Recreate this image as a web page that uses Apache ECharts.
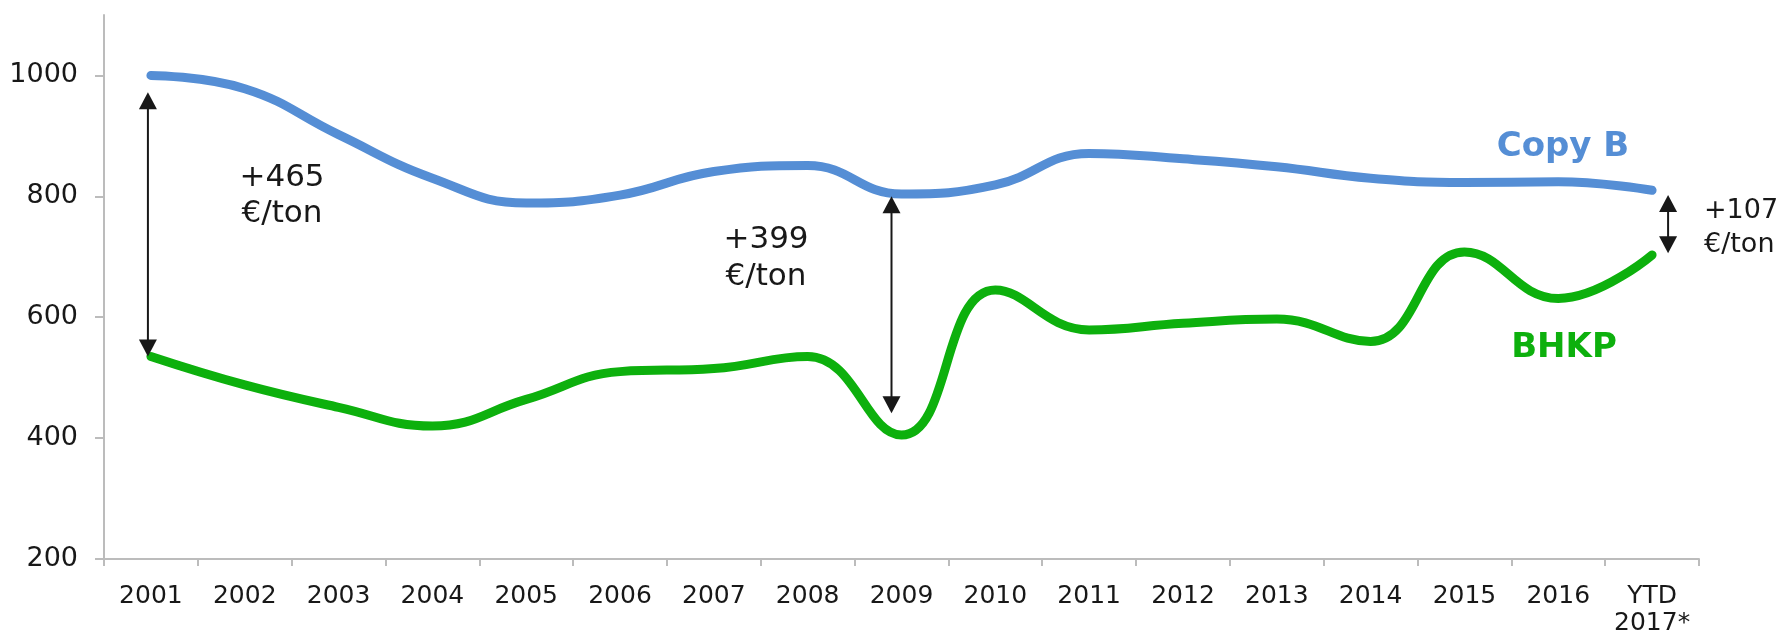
<!DOCTYPE html>
<html>
<head>
<meta charset="utf-8">
<title>Copy B vs BHKP</title>
<script src="https://cdn.jsdelivr.net/npm/echarts@6/dist/echarts.min.js"></script>
<style>
  html, body { margin: 0; padding: 0; background: #ffffff; }
  #chart { width: 1789px; height: 630px; }
</style>
</head>
<body>
<div id="chart"></div>
<script>
// Yearly prices, €/ton
const categories = ['2001', '2002', '2003', '2004', '2005', '2006', '2007', '2008', '2009',
  '2010', '2011', '2012', '2013', '2014', '2015', '2016', 'YTD\n2017*'];
const copyB = [1000, 978, 902, 830, 789, 802, 841, 851, 804, 819, 871, 862, 849, 830, 823, 824, 810];
const bhkp  = [535, 488, 451, 420, 464, 510, 515, 535, 405, 645, 579, 590, 597, 560, 708, 631, 703];
const yTicks = [200, 400, 600, 800, 1000];

// Spread arrows: category, upper end, lower end (€/ton)
const spreadCats  = ['2001', '2009', 'YTD\n2017*'];
const spreadTop   = [972, 800, 802];
const spreadLow   = [535, 441, 706];
const spreadTexts = ['+465\n€/ton', '+399\n€/ton', '+107\n€/ton'];

const FONT = '"DejaVu Sans", Verdana, sans-serif';
const BLUE = '#558ED5';
const GREEN = '#0DB00D';
const INK = '#181818';
const AXIS = '#bcbcbc';

// horizontal nudge of each arrow from its category centre, px
const arrowShift = [-3, -10, 16];

const spreadData = spreadCats.map((c, i) => [categories.indexOf(c), spreadTop[i], spreadLow[i]]);

function renderArrow(params, api) {
  const a = api.coord([api.value(0), api.value(1)]);
  const b = api.coord([api.value(0), api.value(2)]);
  const x = a[0] + arrowShift[params.dataIndex];
  const top = a[1], bot = b[1];
  const hw = 9, hh = 17;
  return {
    type: 'group',
    children: [
      { type: 'line', shape: { x1: x, y1: top + hh - 2, x2: x, y2: bot - hh + 2 },
        style: { stroke: INK, lineWidth: 2 } },
      { type: 'polygon', shape: { points: [[x, top], [x - hw, top + hh], [x + hw, top + hh]] },
        style: { fill: INK } },
      { type: 'polygon', shape: { points: [[x, bot], [x - hw, bot - hh], [x + hw, bot - hh]] },
        style: { fill: INK } }
    ]
  };
}

const chart = echarts.init(document.getElementById('chart'), null, { renderer: 'canvas' });

chart.setOption({
  animation: false,
  backgroundColor: '#ffffff',
  grid: { left: 104, right: 90, top: 15, bottom: 71, containLabel: false, outerBoundsMode: 'none' },
  xAxis: {
    type: 'category',
    data: categories,
    boundaryGap: true,
    axisLine: { lineStyle: { color: AXIS, width: 2 } },
    axisTick: { show: true, length: 7, lineStyle: { color: AXIS, width: 2 } },
    axisLabel: { color: INK, fontFamily: FONT, fontSize: 25, lineHeight: 27, margin: 24, interval: 0 },
    splitLine: { show: false }
  },
  yAxis: {
    type: 'value',
    min: 200,
    max: 1100,
    interval: 200,
    axisLine: { show: true, lineStyle: { color: AXIS, width: 2 } },
    axisTick: { show: true, length: 9, customValues: yTicks, lineStyle: { color: AXIS, width: 2 } },
    axisLabel: { color: INK, fontFamily: FONT, fontSize: 27, margin: 26, customValues: yTicks,
      formatter: v => String(v) },
    splitLine: { show: false }
  },
  series: [
    {
      name: 'Copy B',
      type: 'line',
      data: copyB,
      smooth: 0.45,
      showSymbol: false,
      lineStyle: { color: BLUE, width: 9, cap: 'round', join: 'round' },
      itemStyle: { color: BLUE },
      z: 3
    },
    {
      name: 'BHKP',
      type: 'line',
      data: bhkp,
      smooth: 0.45,
      showSymbol: false,
      lineStyle: { color: GREEN, width: 9, cap: 'round', join: 'round' },
      itemStyle: { color: GREEN },
      z: 3
    },
    {
      name: 'spread',
      type: 'custom',
      data: spreadData,
      renderItem: renderArrow,
      z: 4,
      silent: true
    }
  ],
  graphic: [
    { type: 'text', x: 282, y: 160, style: { text: spreadTexts[0], fill: INK, font: '31px ' + FONT, lineHeight: 36, align: 'center', verticalAlign: 'top' } },
    { type: 'text', x: 766, y: 221, style: { text: spreadTexts[1], fill: INK, font: '31px ' + FONT, lineHeight: 37, align: 'center', verticalAlign: 'top' } },
    { type: 'text', x: 1704, y: 194, style: { text: spreadTexts[2], fill: INK, font: '27px ' + FONT, lineHeight: 34, align: 'left', verticalAlign: 'top' } },
    { type: 'text', x: 1563, y: 147, style: { text: 'Copy B', fill: BLUE, font: 'bold 34px ' + FONT, align: 'center', verticalAlign: 'middle' } },
    { type: 'text', x: 1564, y: 348, style: { text: 'BHKP', fill: GREEN, font: 'bold 34px ' + FONT, align: 'center', verticalAlign: 'middle' } }
  ]
});
</script>
</body>
</html>
